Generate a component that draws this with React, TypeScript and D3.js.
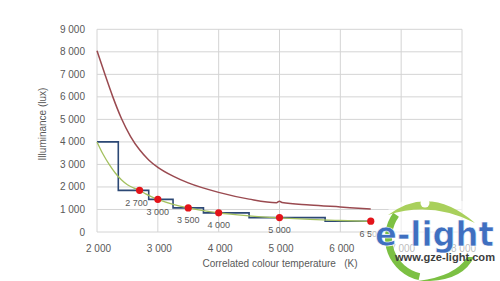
import React from "react";
import * as d3 from "d3";

const yTicks = [0, 1000, 2000, 3000, 4000, 5000, 6000, 7000, 8000, 9000];
const xTicks = [2000, 3000, 4000, 5000, 6000, 7000, 8000];

const upperCct = [2000, 2130, 2260, 2400, 2550, 2700, 2850, 3000, 3250, 3500, 4000, 4500, 4950, 5000, 5040, 5500, 6000, 6500];
const upperLux = [8050, 7000, 6000, 5050, 4250, 3650, 3200, 2870, 2480, 2180, 1760, 1460, 1300, 1370, 1310, 1200, 1110, 1020];

const lowerCct = [2000, 2100, 2200, 2300, 2400, 2500, 2600, 2700, 2800, 2900, 3000, 3250, 3500, 3750, 4000, 4500, 5000, 5500, 6000, 6500];
const lowerLux = [4000, 3450, 3000, 2620, 2320, 2100, 1960, 1850, 1690, 1560, 1450, 1230, 1070, 950, 850, 720, 630, 560, 510, 470];

const stepCct = [2000, 2350, 2850, 3250, 3750, 4500, 5750, 6500];
const stepLux = [4000, 1850, 1450, 1070, 850, 640, 480, 480];

const dotCct = [2700, 3000, 3500, 4000, 5000, 6500];
const dotLux = [1850, 1450, 1070, 850, 640, 480];
const dotLabels = ["2 700", "3 000", "3 500", "4 000", "5 000", "6 500"];

const fmt = (v: number) => (v >= 1000 ? `${Math.floor(v / 1000)} ${String(v % 1000).padStart(3, "0")}` : String(v));

export default function App() {
  const x = d3.scaleLinear().domain([2000, 8000]).range([97, 462]);
  const y = d3.scaleLinear().domain([0, 9000]).range([232, 29.3]);

  const smooth = d3.line<[number, number]>().x((d) => x(d[0])).y((d) => y(d[1])).curve(d3.curveMonotoneX);
  const step = d3.line<[number, number]>().x((d) => x(d[0])).y((d) => y(d[1])).curve(d3.curveStepAfter);

  const upper = upperCct.map((c, i) => [c, upperLux[i]] as [number, number]);
  const lower = lowerCct.map((c, i) => [c, lowerLux[i]] as [number, number]);
  const steps = stepCct.map((c, i) => [c, stepLux[i]] as [number, number]);

  const ringArc = d3.arc()({ innerRadius: 36, outerRadius: 43, startAngle: -Math.PI * 0.93, endAngle: -Math.PI * 0.3 } as any) as string;

  const font = "Liberation Sans, Arial, sans-serif";
  const grey = "#595959";

  return (
    <svg width={500} height={281} style={{ position: "fixed", left: 0, top: 0, background: "#fff" }} fontFamily={font}>
      <rect width={500} height={281} fill="#fff" />
      {yTicks.map((t) => (
        <line key={"gy" + t} x1={x(2000)} x2={x(8000)} y1={y(t)} y2={y(t)} stroke="#d4d4d4" strokeWidth={1} />
      ))}
      {xTicks.map((t) => (
        <line key={"gx" + t} x1={x(t)} x2={x(t)} y1={y(0)} y2={y(9000)} stroke="#d4d4d4" strokeWidth={1} />
      ))}
      {yTicks.map((t) => (
        <text key={"ty" + t} x={85} y={y(t) + 3.5} textAnchor="end" fontSize={10} fill={grey}>
          {fmt(t)}
        </text>
      ))}
      {xTicks.map((t) => (
        <text key={"tx" + t} x={x(t) + 1.5} y={252} textAnchor="middle" fontSize={10} fill={grey}>
          {fmt(t)}
        </text>
      ))}
      <text x={280} y={267} textAnchor="middle" fontSize={10} fill={grey} xmlSpace="preserve">
        Correlated colour temperature   (K)
      </text>
      <text transform="translate(46,124) rotate(-90)" textAnchor="middle" fontSize={10} fill={grey}>
        Illuminance (lux)
      </text>

      <path d={step(steps) || ""} fill="none" stroke="#2c4875" strokeWidth={1.6} />
      <path d={smooth(lower) || ""} fill="none" stroke="#a3c05e" strokeWidth={1.3} />
      <path d={smooth(upper) || ""} fill="none" stroke="#9a4a50" strokeWidth={1.5} />

      {dotCct.map((c, i) => (
        <g key={"d" + c}>
          <circle cx={x(c)} cy={y(dotLux[i])} r={3.6} fill="#e3141a" />
          <text x={x(c) - (i === 0 ? 3 : 0)} y={y(dotLux[i]) + 15.5} textAnchor="middle" fontSize={9} fill={grey}>
            {dotLabels[i]}
          </text>
        </g>
      ))}

      {/* logo */}
      <g>
        <ellipse cx={433} cy={240} rx={62} ry={44} fill="#fff" opacity={0.6} />
        <g transform="translate(428,238)">
          <path d={ringArc} fill="#7cc043" />
        </g>
        <path d="M388,215 Q430,184 475,223 Q432,201 388,215 Z" fill="#a9d05c" />
        <path d="M474,257 Q462,283 418,281 Q456,276 467,257 Z" fill="#7cc043" />
        <circle cx={425} cy={203} r={4.5} fill="#fff" />
        {[-70, -45, -20, 0, 20, 45, 70].map((a) => {
          const r = (a * Math.PI) / 180;
          return (
            <line key={"ray" + a} x1={425 + Math.sin(r) * 6} y1={203 - Math.cos(r) * 6} x2={425 + Math.sin(r) * 9} y2={203 - Math.cos(r) * 9} stroke="#fff" strokeWidth={1} />
          );
        })}
        <text x={375} y={246} fontSize={33} fontWeight="bold" fill="#3f6fc0" stroke="#fff" strokeWidth={0.6} textLength={119} lengthAdjust="spacingAndGlyphs" fontFamily="DejaVu Sans, sans-serif">
          e-light
        </text>
        <text x={395} y={261} fontSize={11.5} fontWeight="bold" fill="#3d3d3d" textLength={100} lengthAdjust="spacingAndGlyphs">
          www.gze-light.com
        </text>
      </g>
    </svg>
  );
}
